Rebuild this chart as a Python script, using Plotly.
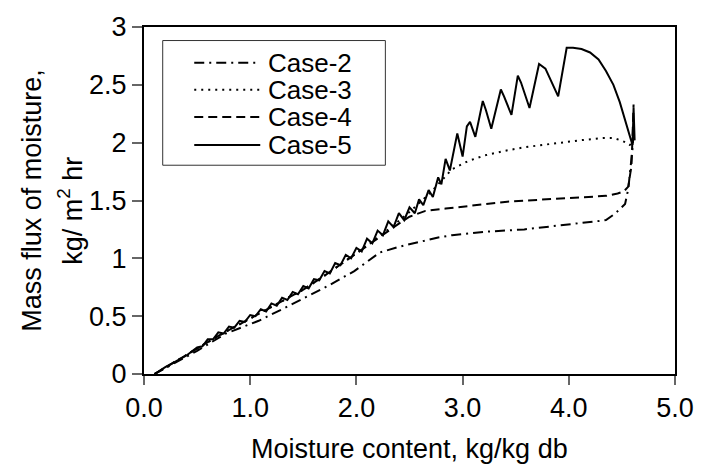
import plotly.graph_objects as go

# ---------------- data ----------------
case2_x = [0.10, 0.30, 0.50, 0.77, 0.92, 1.08, 1.30, 1.51, 1.75, 1.98, 2.10, 2.22, 2.40, 2.59,
           2.77, 2.90, 3.21, 3.58, 4.04, 4.35, 4.44, 4.53, 4.56, 4.58, 4.60, 4.61]
case2_y = [0.00, 0.10, 0.20, 0.35, 0.40, 0.46, 0.56, 0.66, 0.77, 0.89, 0.97, 1.05, 1.10, 1.14,
           1.18, 1.20, 1.23, 1.25, 1.30, 1.33, 1.39, 1.47, 1.60, 1.76, 1.95, 2.10]

case3_x = [0.10, 0.30, 0.50, 0.70, 0.90, 1.10, 1.30, 1.50, 1.70, 1.90, 2.10, 2.30, 2.50, 2.70,
           2.90, 3.05, 3.21, 3.40, 3.58, 3.75, 3.92, 4.10, 4.32, 4.42, 4.49, 4.54, 4.57, 4.60, 4.61]
case3_y = [0.00, 0.11, 0.22, 0.33, 0.43, 0.53, 0.63, 0.73, 0.85, 0.98, 1.11, 1.25, 1.40, 1.57,
           1.77, 1.84, 1.89, 1.93, 1.96, 1.98, 2.00, 2.02, 2.04, 2.04, 2.02, 2.00, 1.98, 1.99, 2.05]

case4_x = [0.10, 0.30, 0.50, 0.70, 0.90, 1.10, 1.30, 1.50, 1.70, 1.90, 2.10, 2.30, 2.40, 2.50,
           2.65, 2.84, 3.12, 3.42, 3.79, 4.20, 4.35, 4.46, 4.52, 4.56, 4.59, 4.60, 4.61]
case4_y = [0.00, 0.11, 0.22, 0.33, 0.43, 0.53, 0.63, 0.73, 0.85, 0.98, 1.11, 1.24, 1.30, 1.36,
           1.41, 1.43, 1.46, 1.49, 1.51, 1.53, 1.54, 1.56, 1.58, 1.62, 1.80, 2.05, 2.33]

case5_x = [0.10, 0.20, 0.30, 0.40, 0.50, 0.55, 0.60, 0.65, 0.70, 0.75, 0.80, 0.85, 0.90, 0.95,
           1.00, 1.05, 1.10, 1.15, 1.20, 1.25, 1.30, 1.35, 1.40, 1.45, 1.50, 1.55, 1.60, 1.65,
           1.70, 1.75, 1.80, 1.85, 1.90, 1.95, 2.00, 2.05, 2.10, 2.15, 2.20, 2.25, 2.30, 2.35,
           2.40, 2.45, 2.50, 2.55, 2.59, 2.63, 2.68, 2.72, 2.77, 2.80, 2.84, 2.88, 2.95, 3.00,
           3.04, 3.07, 3.12, 3.19, 3.22, 3.27, 3.36, 3.39, 3.46, 3.52, 3.55, 3.63, 3.72, 3.78,
           3.90, 3.98, 4.04, 4.12, 4.20, 4.28, 4.35, 4.42, 4.48, 4.55, 4.58, 4.60, 4.61, 4.62]
case5_y = [0.00, 0.06, 0.11, 0.16, 0.23, 0.24, 0.30, 0.30, 0.36, 0.35, 0.41, 0.40, 0.46, 0.45,
           0.51, 0.50, 0.56, 0.54, 0.61, 0.59, 0.66, 0.64, 0.71, 0.69, 0.76, 0.74, 0.82, 0.81,
           0.89, 0.87, 0.96, 0.94, 1.03, 1.00, 1.09, 1.06, 1.17, 1.13, 1.24, 1.20, 1.32, 1.27,
           1.39, 1.33, 1.44, 1.39, 1.51, 1.46, 1.59, 1.53, 1.70, 1.64, 1.86, 1.76, 2.08, 1.88,
           2.14, 2.18, 2.05, 2.36, 2.28, 2.12, 2.46, 2.40, 2.24, 2.58, 2.52, 2.30, 2.68, 2.64,
           2.40, 2.82, 2.82, 2.81, 2.78, 2.72, 2.62, 2.50, 2.35, 2.12, 2.04, 1.98, 2.30, 2.02]

series_names = ["Case-2", "Case-3", "Case-4", "Case-5"]
series_x = [case2_x, case3_x, case4_x, case5_x]
series_y = [case2_y, case3_y, case4_y, case5_y]
dashes = ["10px,5px,2px,5px", "2px,5px", "9px,5px", "solid"]

x_ticks = [0, 1, 2, 3, 4, 5]
y_ticks = [0, 0.5, 1, 1.5, 2, 2.5, 3]

FONT = "Arial, Liberation Sans, sans-serif"
FS = 27
FS_LEG = 26

fig = go.Figure()
for name, xs, ys, d in zip(series_names, series_x, series_y, dashes):
    fig.add_trace(go.Scatter(x=xs, y=ys, mode="lines", name=name, showlegend=False,
                             line=dict(color="black", width=2, dash=d)))

# plot area in pixels: x 144..683, y 15..374
L, R, T, B = 144, 683, 15, 374
W, H = R - L, B - T


def px(xp):
    return (xp - L) / W


def py(yp):
    return (B - yp) / H


# manual legend (box, samples, labels)
fig.add_shape(type="rect", xref="paper", yref="paper",
              x0=px(163), x1=px(389), y0=py(158), y1=py(29),
              line=dict(color="#333", width=1), fillcolor="white")
rows = [52, 80, 108, 137]
for name, d, r in zip(series_names, dashes, rows):
    fig.add_shape(type="line", xref="paper", yref="paper",
                  x0=px(195), x1=px(262), y0=py(r), y1=py(r),
                  line=dict(color="black", width=2, dash=d))
    fig.add_annotation(xref="paper", yref="paper", x=px(268), y=py(r), text=name,
                       showarrow=False, xanchor="left", yanchor="middle",
                       font=dict(family=FONT, size=FS_LEG, color="black"))

# axis titles
fig.add_annotation(xref="paper", yref="paper", x=px(30), y=py(194),
                   text="Mass flux of moisture,", textangle=-90, showarrow=False,
                   xanchor="center", yanchor="middle",
                   font=dict(family=FONT, size=FS, color="black"))
fig.add_annotation(xref="paper", yref="paper", x=px(69), y=py(205),
                   text="kg/ m<sup>2</sup> hr", textangle=-90, showarrow=False,
                   xanchor="center", yanchor="middle",
                   font=dict(family=FONT, size=FS, color="black"))
fig.add_annotation(xref="paper", yref="paper", x=0.5, y=py(452),
                   text="Moisture content, kg/kg db", showarrow=False,
                   xanchor="center", yanchor="middle",
                   font=dict(family=FONT, size=FS, color="black"))

fig.update_xaxes(range=[0, 5], tickvals=x_ticks, tickformat=".1f",
                 showline=True, linecolor="black", linewidth=2, mirror=True,
                 ticks="outside", ticklen=9, tickwidth=2, tickcolor="#666",
                 showgrid=False, zeroline=False,
                 tickfont=dict(family=FONT, size=FS, color="black"))
fig.update_yaxes(range=[0, 3], tickvals=y_ticks,
                 showline=True, linecolor="black", linewidth=2, mirror=True,
                 ticks="outside", ticklen=10, tickwidth=2, tickcolor="#666",
                 showgrid=False, zeroline=False,
                 tickfont=dict(family=FONT, size=FS, color="black"))

fig.update_layout(width=706, height=471,
                  margin=dict(l=L, r=706 - R, t=T, b=471 - B),
                  paper_bgcolor="white", plot_bgcolor="white",
                  font=dict(family=FONT, size=FS, color="black"))

fig.write_html("out.html")
